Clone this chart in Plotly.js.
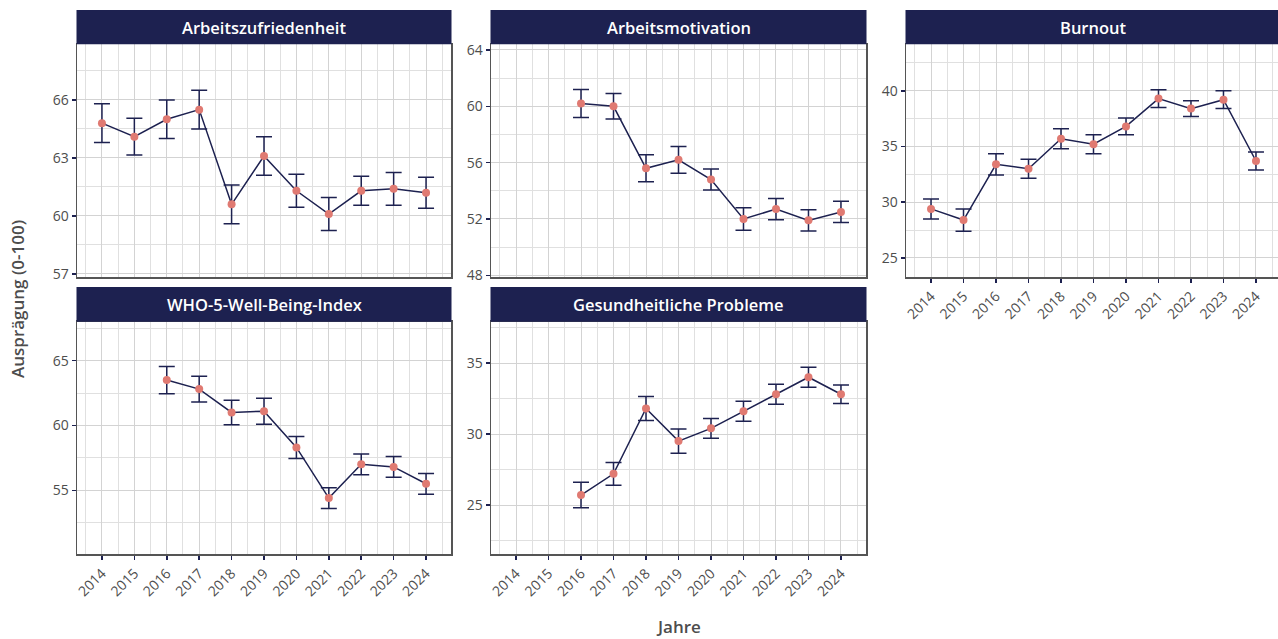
<!DOCTYPE html>
<html>
<head>
<meta charset="utf-8">
<script src="https://cdn.plot.ly/plotly-3.0.1.min.js"></script>
<style>
html,body{margin:0;padding:0;overflow:hidden;background:#fff;}
#chart{width:1282px;height:639px;}
</style>
</head>
<body>
<div id="chart"></div>
<script>
// ---- data ----
const years = [2014, 2015, 2016, 2017, 2018, 2019, 2020, 2021, 2022, 2023, 2024];
const panelTitles = ["Arbeitszufriedenheit", "Arbeitsmotivation", "Burnout", "WHO-5-Well-Being-Index", "Gesundheitliche Probleme"];

const zufriedenheit = [64.8, 64.1, 65.0, 65.5, 60.6, 63.1, 61.3, 60.1, 61.3, 61.4, 61.2];
const zufriedenheitErr = [1.0, 0.95, 1.0, 1.0, 1.0, 1.0, 0.85, 0.85, 0.75, 0.85, 0.8];

const motivation = [null, null, 60.2, 60.0, 55.6, 56.2, 54.8, 52.0, 52.7, 51.9, 52.5];
const motivationErr = [null, null, 1.0, 0.9, 0.95, 0.95, 0.75, 0.8, 0.75, 0.75, 0.75];

const burnout = [29.4, 28.4, 33.4, 33.0, 35.7, 35.2, 36.8, 39.3, 38.4, 39.2, 33.7];
const burnoutErr = [0.9, 1.0, 0.95, 0.85, 0.9, 0.85, 0.75, 0.8, 0.7, 0.8, 0.8];

const who5 = [null, null, 63.5, 62.8, 61.0, 61.1, 58.3, 54.4, 57.0, 56.8, 55.5];
const who5Err = [null, null, 1.05, 1.0, 0.95, 1.0, 0.85, 0.8, 0.8, 0.8, 0.8];

const gesundheit = [null, null, 25.7, 27.2, 31.8, 29.5, 30.4, 31.6, 32.8, 34.0, 32.8];
const gesundheitErr = [null, null, 0.9, 0.8, 0.85, 0.85, 0.7, 0.7, 0.7, 0.7, 0.65];

const yTitle = "Ausprägung (0-100)";
const xTitle = "Jahre";

// ---- styling / layout ----
const W = 1282, H = 639;
const navy = "#1d2150";
const dot = "#e07a72";
const gridMajor = "#d3d3d3";
const gridMinor = "#e0e0e0";
const textGray = "#4d4d4d";

const series = [
  {y: zufriedenheit, e: zufriedenheitErr},
  {y: motivation, e: motivationErr},
  {y: burnout, e: burnoutErr},
  {y: who5, e: who5Err},
  {y: gesundheit, e: gesundheitErr}
];

// panel geometry in pixels
const cols = [[77, 451], [491, 866], [906, 1281]];
const rows = [{strip: 10, top: 44.3, bottom: 277}, {strip: 287, top: 321.7, bottom: 554.3}];
const panels = [
  {c: 0, r: 0, range: [56.84, 68.88], dtick: 3, tick0: 57, xlabels: false},
  {c: 1, r: 0, range: [47.88, 64.4], dtick: 4, tick0: 48, xlabels: false},
  {c: 2, r: 0, range: [23.29, 44.17], dtick: 5, tick0: 25, xlabels: true},
  {c: 0, r: 1, range: [50.06, 68.0], dtick: 5, tick0: 55, xlabels: true},
  {c: 1, r: 1, range: [21.53, 37.91], dtick: 5, tick0: 25, xlabels: true}
];

const px2x = p => p / W;
const py2y = p => 1 - p / H;

const traces = [];
const layout = {
  width: W, height: H,
  margin: {l: 0, r: 0, t: 0, b: 0},
  paper_bgcolor: "#ffffff",
  plot_bgcolor: "#ffffff",
  showlegend: false,
  font: {family: "Open Sans, sans-serif", color: textGray, size: 13},
  shapes: [],
  annotations: []
};

panels.forEach((p, i) => {
  const n = i === 0 ? "" : String(i + 1);
  const xa = "xaxis" + n, ya = "yaxis" + n;
  const col = cols[p.c], row = rows[p.r];
  traces.push({
    type: "scatter",
    mode: "lines+markers",
    x: years,
    y: series[i].y,
    xaxis: "x" + n, yaxis: "y" + n,
    connectgaps: false,
    line: {color: navy, width: 1.5},
    marker: {color: dot, size: 8},
    error_y: {type: "data", array: series[i].e, visible: true, color: navy, thickness: 1.5, width: 8},
    hoverinfo: "x+y"
  });
  layout[xa] = {
    domain: [px2x(col[0]), px2x(col[1])],
    anchor: "y" + n,
    range: [2013.23, 2024.77],
    tickmode: "linear", tick0: 2014, dtick: 1,
    showticklabels: p.xlabels,
    tickangle: -45,
    ticks: p.xlabels ? "outside" : "",
    ticklen: 4, tickwidth: 1.5, tickcolor: navy,
    tickfont: {size: 14, color: textGray},
    showgrid: true, gridcolor: gridMajor, gridwidth: 1,
    minor: {dtick: 0.5, tick0: 2013.5, showgrid: true, gridcolor: gridMinor, gridwidth: 1, ticks: ""},
    showline: true, linecolor: "#555555", linewidth: 1.5, mirror: true,
    zeroline: false, fixedrange: true
  };
  layout[ya] = {
    domain: [py2y(row.bottom), py2y(row.top)],
    anchor: "x" + n,
    range: p.range,
    tickmode: "linear", tick0: p.tick0, dtick: p.dtick,
    ticks: "outside", ticklen: 4, tickwidth: 1.5, tickcolor: navy,
    tickfont: {size: 14, color: textGray},
    showgrid: true, gridcolor: gridMajor, gridwidth: 1,
    minor: {dtick: p.dtick / 2, tick0: p.tick0, showgrid: true, gridcolor: gridMinor, gridwidth: 1, ticks: ""},
    showline: true, linecolor: "#555555", linewidth: 1.5, mirror: true,
    zeroline: false, fixedrange: true
  };
  // strip
  layout.shapes.push({
    type: "rect", xref: "paper", yref: "paper",
    x0: px2x(col[0] - 0.5), x1: px2x(col[1] + 0.5),
    y0: py2y(row.top), y1: py2y(row.strip),
    fillcolor: navy, line: {width: 0}, layer: "above"
  });
  layout.annotations.push({
    xref: "paper", yref: "paper",
    x: px2x((col[0] + col[1]) / 2), y: py2y((row.strip + row.top) / 2),
    xanchor: "center", yanchor: "middle",
    text: panelTitles[i], showarrow: false,
    font: {size: 16.5, color: "#ffffff", family: "Open Sans, sans-serif", weight: 600}
  });
});

// global axis titles
layout.annotations.push({
  xref: "paper", yref: "paper",
  x: px2x(17), y: py2y(299),
  xanchor: "center", yanchor: "middle",
  text: yTitle, textangle: -90, showarrow: false,
  font: {size: 17, color: textGray, weight: 600}
});
layout.annotations.push({
  xref: "paper", yref: "paper",
  x: px2x(678), y: py2y(626),
  xanchor: "center", yanchor: "middle",
  text: xTitle, showarrow: false,
  font: {size: 17, color: textGray, weight: 600}
});

Plotly.newPlot("chart", traces, layout, {displayModeBar: false, staticPlot: true});
</script>
</body>
</html>
